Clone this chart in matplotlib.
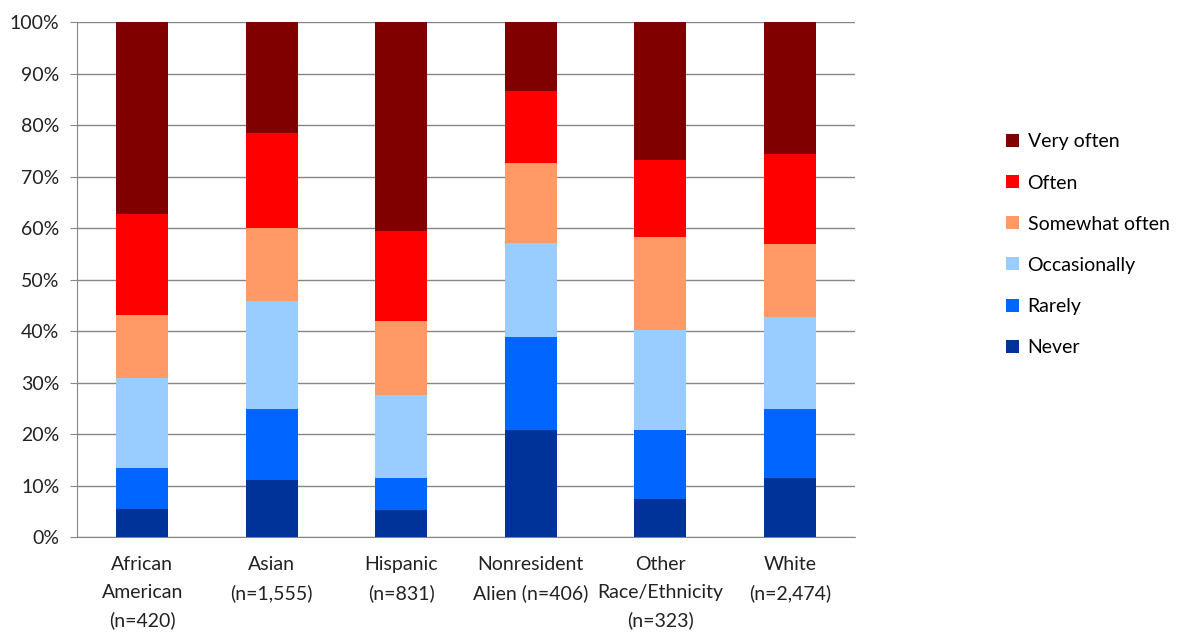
import matplotlib.pyplot as plt
import numpy as np

plt.rcParams['font.family'] = ['Lato', 'DejaVu Sans']

groups = ['African\nAmerican\n(n=420)', 'Asian\n(n=1,555)', 'Hispanic\n(n=831)',
          'Nonresident\nAlien (n=406)', 'Other\nRace/Ethnicity\n(n=323)', 'White\n(n=2,474)']

levels = ['Never', 'Rarely', 'Occasionally', 'Somewhat often', 'Often', 'Very often']
colors = ['#003399', '#0066FF', '#99CCFF', '#FF9966', '#FF0000', '#800000']

# cumulative tops (%), bottom to top
never        = [5.5, 11.0, 5.3, 20.8, 7.4, 11.4]
rarely       = [13.4, 24.8, 11.4, 38.8, 20.8, 24.8]
occasionally = [30.9, 45.8, 27.5, 57.2, 40.3, 42.8]
somewhat     = [43.2, 60.0, 41.9, 72.7, 58.3, 57.0]
often        = [62.7, 78.5, 59.4, 86.7, 73.3, 74.4]
very_often   = [100, 100, 100, 100, 100, 100]

tops = np.array([never, rarely, occasionally, somewhat, often, very_often])
bottoms = np.vstack([np.zeros(len(groups)), tops[:-1]])

fig = plt.figure(figsize=(11.92, 6.34), dpi=100)
ax = fig.add_axes([0.065, 0.153, 0.652, 0.812])

x = np.arange(len(groups))
bars = []
for i in range(len(levels)):
    b = ax.bar(x, tops[i] - bottoms[i], bottom=bottoms[i], width=0.4,
               color=colors[i], label=levels[i], zorder=3)
    bars.append(b)

fs = 14
ax.set_xlim(-0.5, len(groups) - 0.5)
ax.set_ylim(0, 100)
ax.set_yticks(np.arange(0, 101, 10))
ax.set_yticklabels([f'{v}%' for v in range(0, 101, 10)], fontsize=fs, color='#222222')
ax.set_xticks(x)
ax.set_xticklabels(groups, fontsize=fs, color='#222222', linespacing=1.72)
ax.tick_params(axis='x', length=0, pad=14)
ax.tick_params(axis='y', length=5, color='#868686', pad=8)
ax.grid(axis='y', color='#868686', linewidth=1, zorder=0)
for s in ['top', 'right']:
    ax.spines[s].set_visible(False)
ax.spines['left'].set_color('#868686')
ax.spines['bottom'].set_color('#868686')

fig.legend(bars[::-1], levels[::-1], loc='center left', bbox_to_anchor=(0.836, 0.614),
           frameon=False, fontsize=fs, handlelength=0.65, handleheight=0.65,
           handletextpad=0.45, labelspacing=1.24, borderpad=0)

fig.savefig('out.png', dpi=100)
